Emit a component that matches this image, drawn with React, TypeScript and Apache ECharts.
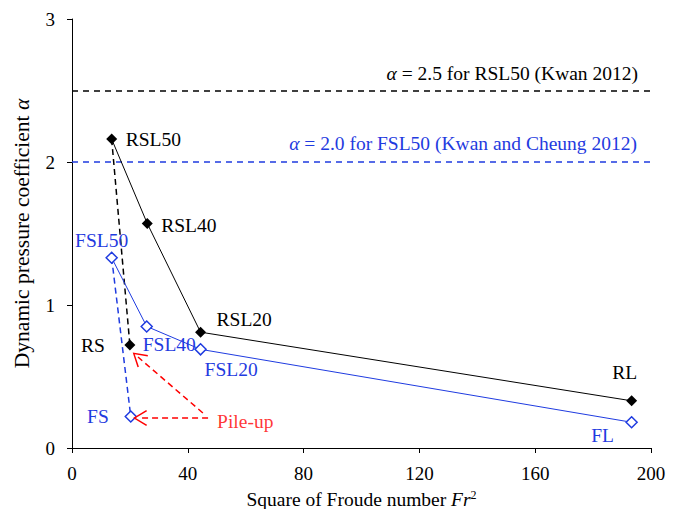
import React, { useEffect, useRef } from "react";
import * as echarts from "echarts";

// Rigid-barrier tests (square of Froude number vs. dynamic pressure coefficient)
const rigidNames = ["RSL50", "RSL40", "RSL20", "RL"];
const rigidFr2 = [13.7, 26.0, 44.4, 193.3];
const rigidAlpha = [2.16, 1.57, 0.81, 0.33];

// Flexible-barrier tests
const flexNames = ["FSL50", "FSL40", "FSL20", "FL"];
const flexFr2 = [13.7, 25.8, 44.4, 193.3];
const flexAlpha = [1.33, 0.85, 0.69, 0.18];

// Pile-up cases
const rsPoint = { name: "RS", fr2: 20.0, alpha: 0.72 };
const fsPoint = { name: "FS", fr2: 20.3, alpha: 0.22 };

// Reference design values
const refRigidAlpha = 2.5;
const refFlexAlpha = 2.0;

// Pile-up annotation arrows: [tailX, tailY, headX, headY]
const pileUpArrows = [
  [45.2, 0.245, 22.8, 0.636],
  [47.0, 0.21, 23.5, 0.21],
];
const pileUpAnchor = [47.0, 0.21];

const xTicks = { min: 0, max: 200, interval: 40 };
const yTicks = { min: 0, max: 3, interval: 1 };

const FONT = "Liberation Serif";
const FS_TEXT = 19.5;
const FS_TICK = 19;
const FS_YNAME = 21.5;
const BLUE = "#1f3be0";
const RED = "#ff0000";

// Label placement per point: [align, dx, dy]
const rigidLabelPos: [string, number, number][] = [
  ["left", 14, 0],
  ["left", 14, 2],
  ["left", 16, -13],
  ["center", -7, -28],
];
const flexLabelPos: [string, number, number][] = [
  ["center", -10, -17],
  ["left", -4, 18],
  ["left", 4, 20],
  ["center", -29, 13],
];

const chevron = "path://M8,0 L16,13.2 L14.7,14 L8,2.7 L1.3,14 L0,13.2 Z";

const txt = (color: string, size = FS_TEXT) => ({
  color,
  fontFamily: FONT,
  fontStyle: "normal",
  fontWeight: "normal",
  fontSize: size,
});

function pointData(
  names: string[],
  xs: number[],
  ys: number[],
  pos: [string, number, number][],
  color: string
) {
  return xs.map((x, i) => ({
    value: [x, ys[i]],
    name: names[i],
    label: {
      show: true,
      position: "inside",
      align: pos[i][0],
      verticalAlign: "middle",
      offset: [pos[i][1], pos[i][2]],
      formatter: names[i],
      ...txt(color),
    },
  }));
}

export default function App() {
  const ref = useRef<HTMLDivElement>(null);

  useEffect(() => {
    if (!ref.current) return;
    const chart = echarts.init(ref.current, undefined, { renderer: "svg" });

    const option = {
      animation: false,
      backgroundColor: "#ffffff",
      textStyle: { fontFamily: FONT, fontStyle: "normal" },
      grid: { left: 72, right: 25, top: 19, bottom: 61, containLabel: false, outerBoundsMode: "none" },
      xAxis: {
        type: "value",
        min: xTicks.min,
        max: xTicks.max,
        interval: xTicks.interval,
        splitLine: { show: false },
        axisLine: { lineStyle: { color: "#000", width: 1 } },
        axisTick: { length: 5, lineStyle: { color: "#000" } },
        axisLabel: { ...txt("#000", FS_TICK), margin: 16 },
        name: "Square of Froude number {i|Fr}{s|2}",
        nameLocation: "middle",
        nameGap: 41,
        nameTextStyle: {
          ...txt("#000"),
          rich: {
            i: { ...txt("#000"), fontStyle: "italic" },
            s: { ...txt("#000", 12), padding: [0, 0, 9, 0] },
          },
        },
      },
      yAxis: {
        type: "value",
        min: yTicks.min,
        max: yTicks.max,
        interval: yTicks.interval,
        splitLine: { show: false },
        axisLine: { show: true, lineStyle: { color: "#000", width: 1 } },
        axisTick: { show: true, length: 5, lineStyle: { color: "#000" } },
        axisLabel: { ...txt("#000", FS_TICK), margin: 17 },
        name: "Dynamic pressure coefficient {i|α}",
        nameLocation: "middle",
        nameRotate: 90,
        nameGap: 39,
        nameTextStyle: {
          ...txt("#000", FS_YNAME),
          rich: {
            i: { ...txt("#000", FS_YNAME), fontStyle: "italic" },
          },
        },
      },
      series: [
        {
          name: "Rigid",
          type: "line",
          data: pointData(rigidNames, rigidFr2, rigidAlpha, rigidLabelPos, "#000"),
          symbol: "diamond",
          symbolSize: 11,
          itemStyle: { color: "#000" },
          lineStyle: { color: "#000", width: 1 },
          z: 5,
          markLine: {
            silent: true,
            symbol: ["none", "none"],
            lineStyle: { color: "#000", type: [6, 5], width: 1.5 },
            label: {
              show: true,
              position: "insideEndTop",
              distance: [13, 7],
              ...txt("#000"),
              formatter: "{i|α} = " + refRigidAlpha + " for RSL50 (Kwan 2012)",
              rich: {
                i: { ...txt("#000"), fontStyle: "italic" },
              },
            },
            data: [{ yAxis: refRigidAlpha }],
          },
        },
        {
          name: "Flexible",
          type: "line",
          data: pointData(flexNames, flexFr2, flexAlpha, flexLabelPos, BLUE),
          symbol: "diamond",
          symbolSize: 11,
          itemStyle: { color: "#fff", borderColor: BLUE, borderWidth: 1.5 },
          lineStyle: { color: BLUE, width: 1 },
          z: 5,
          markLine: {
            silent: true,
            symbol: ["none", "none"],
            lineStyle: { color: BLUE, type: [6, 5], width: 1.5 },
            label: {
              show: true,
              position: "insideEndTop",
              distance: [14, 9],
              ...txt(BLUE),
              formatter: "{i|α} = " + refFlexAlpha.toFixed(1) + " for FSL50 (Kwan and Cheung 2012)",
              rich: {
                i: { ...txt(BLUE), fontStyle: "italic" },
              },
            },
            data: [{ yAxis: refFlexAlpha }],
          },
        },
        {
          name: "Rigid pile-up",
          type: "line",
          data: [
            { value: [rigidFr2[0], rigidAlpha[0]], symbol: "none" },
            {
              value: [rsPoint.fr2, rsPoint.alpha],
              label: {
                show: true,
                position: "inside",
                align: "right",
                verticalAlign: "middle",
                offset: [-25, 0],
                formatter: rsPoint.name,
                ...txt("#000"),
              },
            },
          ],
          symbol: "diamond",
          symbolSize: 11,
          itemStyle: { color: "#000" },
          lineStyle: { color: "#000", width: 1.5, type: [6, 4] },
          z: 4,
        },
        {
          name: "Flexible pile-up",
          type: "line",
          data: [
            { value: [flexFr2[0], flexAlpha[0]], symbol: "none" },
            {
              value: [fsPoint.fr2, fsPoint.alpha],
              label: {
                show: true,
                position: "inside",
                align: "right",
                verticalAlign: "middle",
                offset: [-22, 0],
                formatter: fsPoint.name,
                ...txt(BLUE),
              },
            },
          ],
          symbol: "diamond",
          symbolSize: 11,
          itemStyle: { color: "#fff", borderColor: BLUE, borderWidth: 1.5 },
          lineStyle: { color: BLUE, width: 1.5, type: [6, 4] },
          z: 4,
        },
        {
          name: "Pile-up",
          type: "scatter",
          data: [
            {
              value: pileUpAnchor,
              label: {
                show: true,
                position: "inside",
                align: "left",
                verticalAlign: "middle",
                offset: [9, 4],
                formatter: "Pile-up",
                ...txt(RED),
              },
            },
          ],
          symbolSize: 0,
          silent: true,
          markLine: {
            silent: true,
            symbol: ["none", chevron],
            symbolSize: [16, 14],
            lineStyle: { color: RED, type: [6, 4], width: 1.5 },
            itemStyle: { color: RED },
            label: { show: false },
            data: pileUpArrows.map((a) => [
              { coord: [a[0], a[1]] },
              { coord: [a[2], a[3]] },
            ]),
          },
        },
      ],
    };

    chart.setOption(option as any);
    return () => chart.dispose();
  }, []);

  return (
    <div
      ref={ref}
      style={{ position: "fixed", left: 0, top: 0, width: 676, height: 509, background: "#fff" }}
    />
  );
}
